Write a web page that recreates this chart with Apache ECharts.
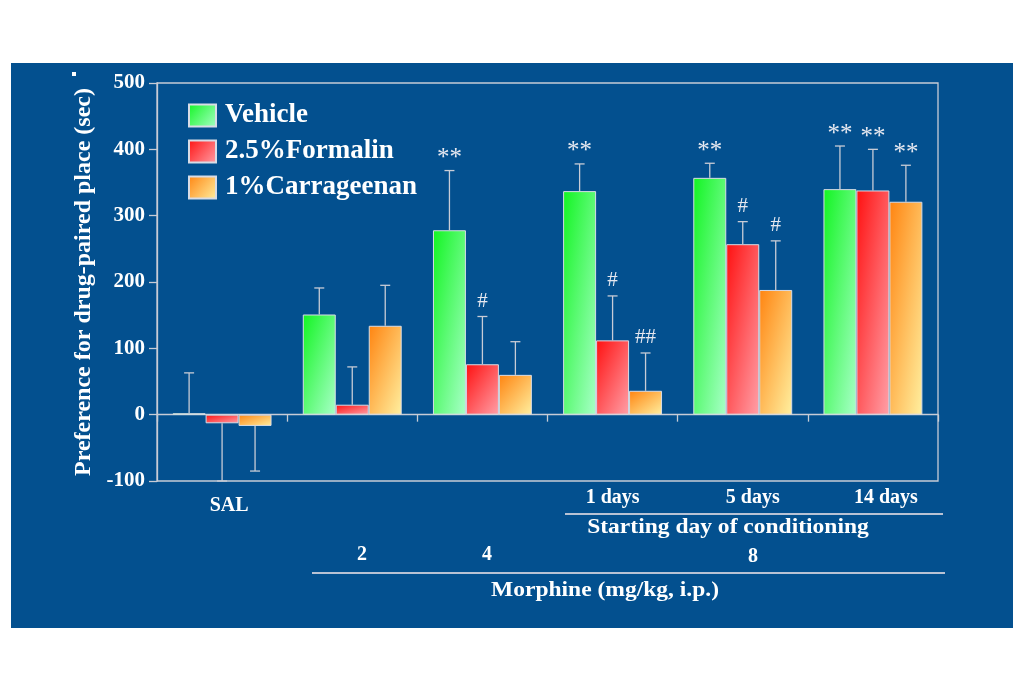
<!DOCTYPE html>
<html>
<head>
<meta charset="utf-8">
<script src="https://cdn.jsdelivr.net/npm/echarts@6/dist/echarts.min.js"></script>
<style>
html,body{margin:0;padding:0;background:#ffffff;}
#bg{position:absolute;left:11px;top:63px;width:1002px;height:565px;background:#03508f;}
#chart{position:absolute;left:0;top:0;width:1024px;height:679px;}
</style>
</head>
<body>
<div id="bg"></div>
<div id="chart"></div>
<script>
const categories = ['SAL', '2', '4', '1 days', '5 days', '14 days'];
const seriesNames = ['Vehicle', '2.5%Formalin', '1%Carrageenan'];
const vehicle = [2, 151, 278, 337, 357, 340];
const formalin = [-13, 15, 76, 112, 257, 338];
const carrageenan = [-17, 134, 60, 36, 188, 321];
const vehicleErrEnd = [63, 191, 368, 378, 379, 405];
const formalinErrEnd = [-100, 72, 148, 179, 291, 400];
const carrageenanErrEnd = [-85, 195, 110, 93, 262, 376];
const vehicleMarks = ['', '', '**', '**', '**', '**'];
const formalinMarks = ['', '', '#', '#', '#', '**'];
const carrageenanMarks = ['', '', '', '##', '#', '**'];
const yTicks = [-100, 0, 100, 200, 300, 400, 500];

const SERIF = '"Liberation Serif", "DejaVu Serif", serif';
const CAT_GAP = 0.24;
const fills = [
  ['#12f522', '#a8ffc8'],
  ['#ff1010', '#ffa0a8'],
  ['#ff8410', '#fff0a0']
];
const values = [vehicle, formalin, carrageenan];
const errEnds = [vehicleErrEnd, formalinErrEnd, carrageenanErrEnd];
const marks = [vehicleMarks, formalinMarks, carrageenanMarks];

// gradient whose value runs 0 at top-left to 1 at bottom-right (t = (xn + yn)/2)
function grad(c, v) {
  const w = 33, h = Math.max(Math.abs(v) * 0.663, 2);
  const s = h * h + w * w;
  return new echarts.graphic.LinearGradient(0, 0, 2 * h * h / s, 2 * w * w / s, [
    {offset: 0, color: c[0]}, {offset: 1, color: c[1]}
  ]);
}

const series = [];
values.forEach((vals, s) => {
  series.push({
    name: seriesNames[s],
    type: 'bar',
    data: vals.map(v => ({value: v, itemStyle: {color: grad(fills[s], v)}})),
    barGap: '0%',
    barCategoryGap: (CAT_GAP * 100) + '%',
    itemStyle: {
      color: new echarts.graphic.LinearGradient(0, 0, 1, 1, [
        {offset: 0, color: fills[s][0]}, {offset: 1, color: fills[s][1]}
      ]),
      borderColor: '#d8dce6', borderWidth: 1
    },
    z: 2
  });
});
values.forEach((vals, s) => {
  series.push({
    name: seriesNames[s] + ' err',
    type: 'custom',
    data: vals.map((v, i) => [i, v, errEnds[s][i]]),
    z: 3,
    silent: true,
    renderItem: function (params, api) {
      const i = api.value(0), v = api.value(1), e = api.value(2);
      const band = api.size([1, 0])[0];
      const bw = band * (1 - CAT_GAP) / 3;
      const cx = api.coord([i, 0])[0] + (s - 1) * bw;
      const y0 = api.coord([i, v])[1];
      const y1 = api.coord([i, e])[1];
      const cap = 5;
      const st = {stroke: '#c8ccd6', lineWidth: 1.3};
      const children = [
        {type: 'line', shape: {x1: cx, y1: y0, x2: cx, y2: y1}, style: st},
        {type: 'line', shape: {x1: cx - cap, y1: y1, x2: cx + cap, y2: y1}, style: st}
      ];
      const m = marks[s][params.dataIndex];
      if (m) {
        const star = m.indexOf('*') >= 0;
        children.push({
          type: 'text',
          style: {
            text: m, x: cx, y: y1 - (star ? 12 : 15), align: 'center', verticalAlign: 'middle',
            fill: '#e6e8f0', font: (star ? '25px ' : '21px ') + SERIF
          }
        });
      }
      return {type: 'group', children: children};
    }
  });
});

const labelStyle = {color: '#fff', fontFamily: SERIF, fontWeight: 'bold', fontSize: 20};
const chart = echarts.init(document.getElementById('chart'));
chart.setOption({
  backgroundColor: 'transparent',
  animation: false,
  grid: {left: 157, right: 86, top: 83, bottom: 198, show: true, borderColor: '#c8ccd6', borderWidth: 1.3},
  legend: {
    data: seriesNames.map(n => ({name: n, icon: 'rect'})),
    orient: 'vertical',
    left: 183, top: 97,
    itemWidth: 27, itemHeight: 22, itemGap: 9,
    textStyle: {color: '#ffffff', fontFamily: SERIF, fontWeight: 'bold', fontSize: 27, padding: [0, 0, 0, 4]},
    selectedMode: false
  },
  xAxis: [
    {
      type: 'category', data: categories, position: 'bottom',
      axisLine: {show: false, onZero: false}, axisTick: {show: false},
      axisLabel: {
        color: '#ffffff', margin: 7, fontFamily: SERIF, fontWeight: 'bold', fontSize: 20,
        formatter: function (v, i) {
          if (i === 0) return '{a|' + v + '}';
          if (i === 3) return '{d|' + v + '}';
          if (i === 4) return '{b|' + v + '}';
          if (i === 5) return '{c|' + v + '}';
          return '';
        },
        rich: {
          a: Object.assign({}, labelStyle, {padding: [8, 0, 0, 14]}),
          d: Object.assign({}, labelStyle),
          b: Object.assign({}, labelStyle, {padding: [0, 0, 0, 20]}),
          c: Object.assign({}, labelStyle, {padding: [0, 0, 3, 26]})
        }
      }
    },
    {
      type: 'category', data: categories, position: 'bottom',
      axisLine: {show: true, onZero: true, lineStyle: {color: '#c8ccd6', width: 1.3}},
      axisTick: {show: true, length: 7, lineStyle: {color: '#c8ccd6', width: 1.3}},
      axisLabel: {show: false}
    }
  ],
  yAxis: {
    type: 'value', min: -100, max: 500, interval: 100,
    name: 'Preference for drug-paired place (sec)',
    nameLocation: 'middle', nameGap: 48,
    nameTextStyle: {color: '#ffffff', fontFamily: SERIF, fontWeight: 'bold', fontSize: 24},
    axisLine: {show: true, lineStyle: {color: '#c8ccd6', width: 1.3}},
    axisTick: {show: true, length: 8, lineStyle: {color: '#c8ccd6', width: 1.3}},
    splitLine: {show: false},
    axisLabel: {
      color: '#ffffff', fontFamily: SERIF, fontWeight: 'bold', fontSize: 21, margin: 12,
      formatter: function (v) { return yTicks.indexOf(v) >= 0 ? String(v) : ''; }
    }
  },
  graphic: [
    {type: 'rect', shape: {x: 72, y: 72, width: 4, height: 4}, style: {fill: '#ffffff'}},
    {type: 'line', shape: {x1: 565, y1: 514, x2: 943, y2: 514}, style: {stroke: '#b8c2d4', lineWidth: 2}},
    {type: 'line', shape: {x1: 312, y1: 573, x2: 945, y2: 573}, style: {stroke: '#b8c2d4', lineWidth: 2}},
    {type: 'text', x: 728, y: 528, scaleX: 1.12, style: {text: 'Starting day of conditioning', x: 0, y: 0, align: 'center', verticalAlign: 'middle', fill: '#fff', font: 'bold 21px ' + SERIF}},
    {type: 'text', x: 362, y: 555, style: {text: '2', x: 0, y: 0, align: 'center', verticalAlign: 'middle', fill: '#fff', font: 'bold 20px ' + SERIF}},
    {type: 'text', x: 487, y: 555, style: {text: '4', x: 0, y: 0, align: 'center', verticalAlign: 'middle', fill: '#fff', font: 'bold 20px ' + SERIF}},
    {type: 'text', x: 753, y: 557, style: {text: '8', x: 0, y: 0, align: 'center', verticalAlign: 'middle', fill: '#fff', font: 'bold 20px ' + SERIF}},
    {type: 'text', x: 605, y: 591, scaleX: 1.12, style: {text: 'Morphine (mg/kg, i.p.)', x: 0, y: 0, align: 'center', verticalAlign: 'middle', fill: '#fff', font: 'bold 21px ' + SERIF}}
  ],
  series: series
});
</script>
</body>
</html>
